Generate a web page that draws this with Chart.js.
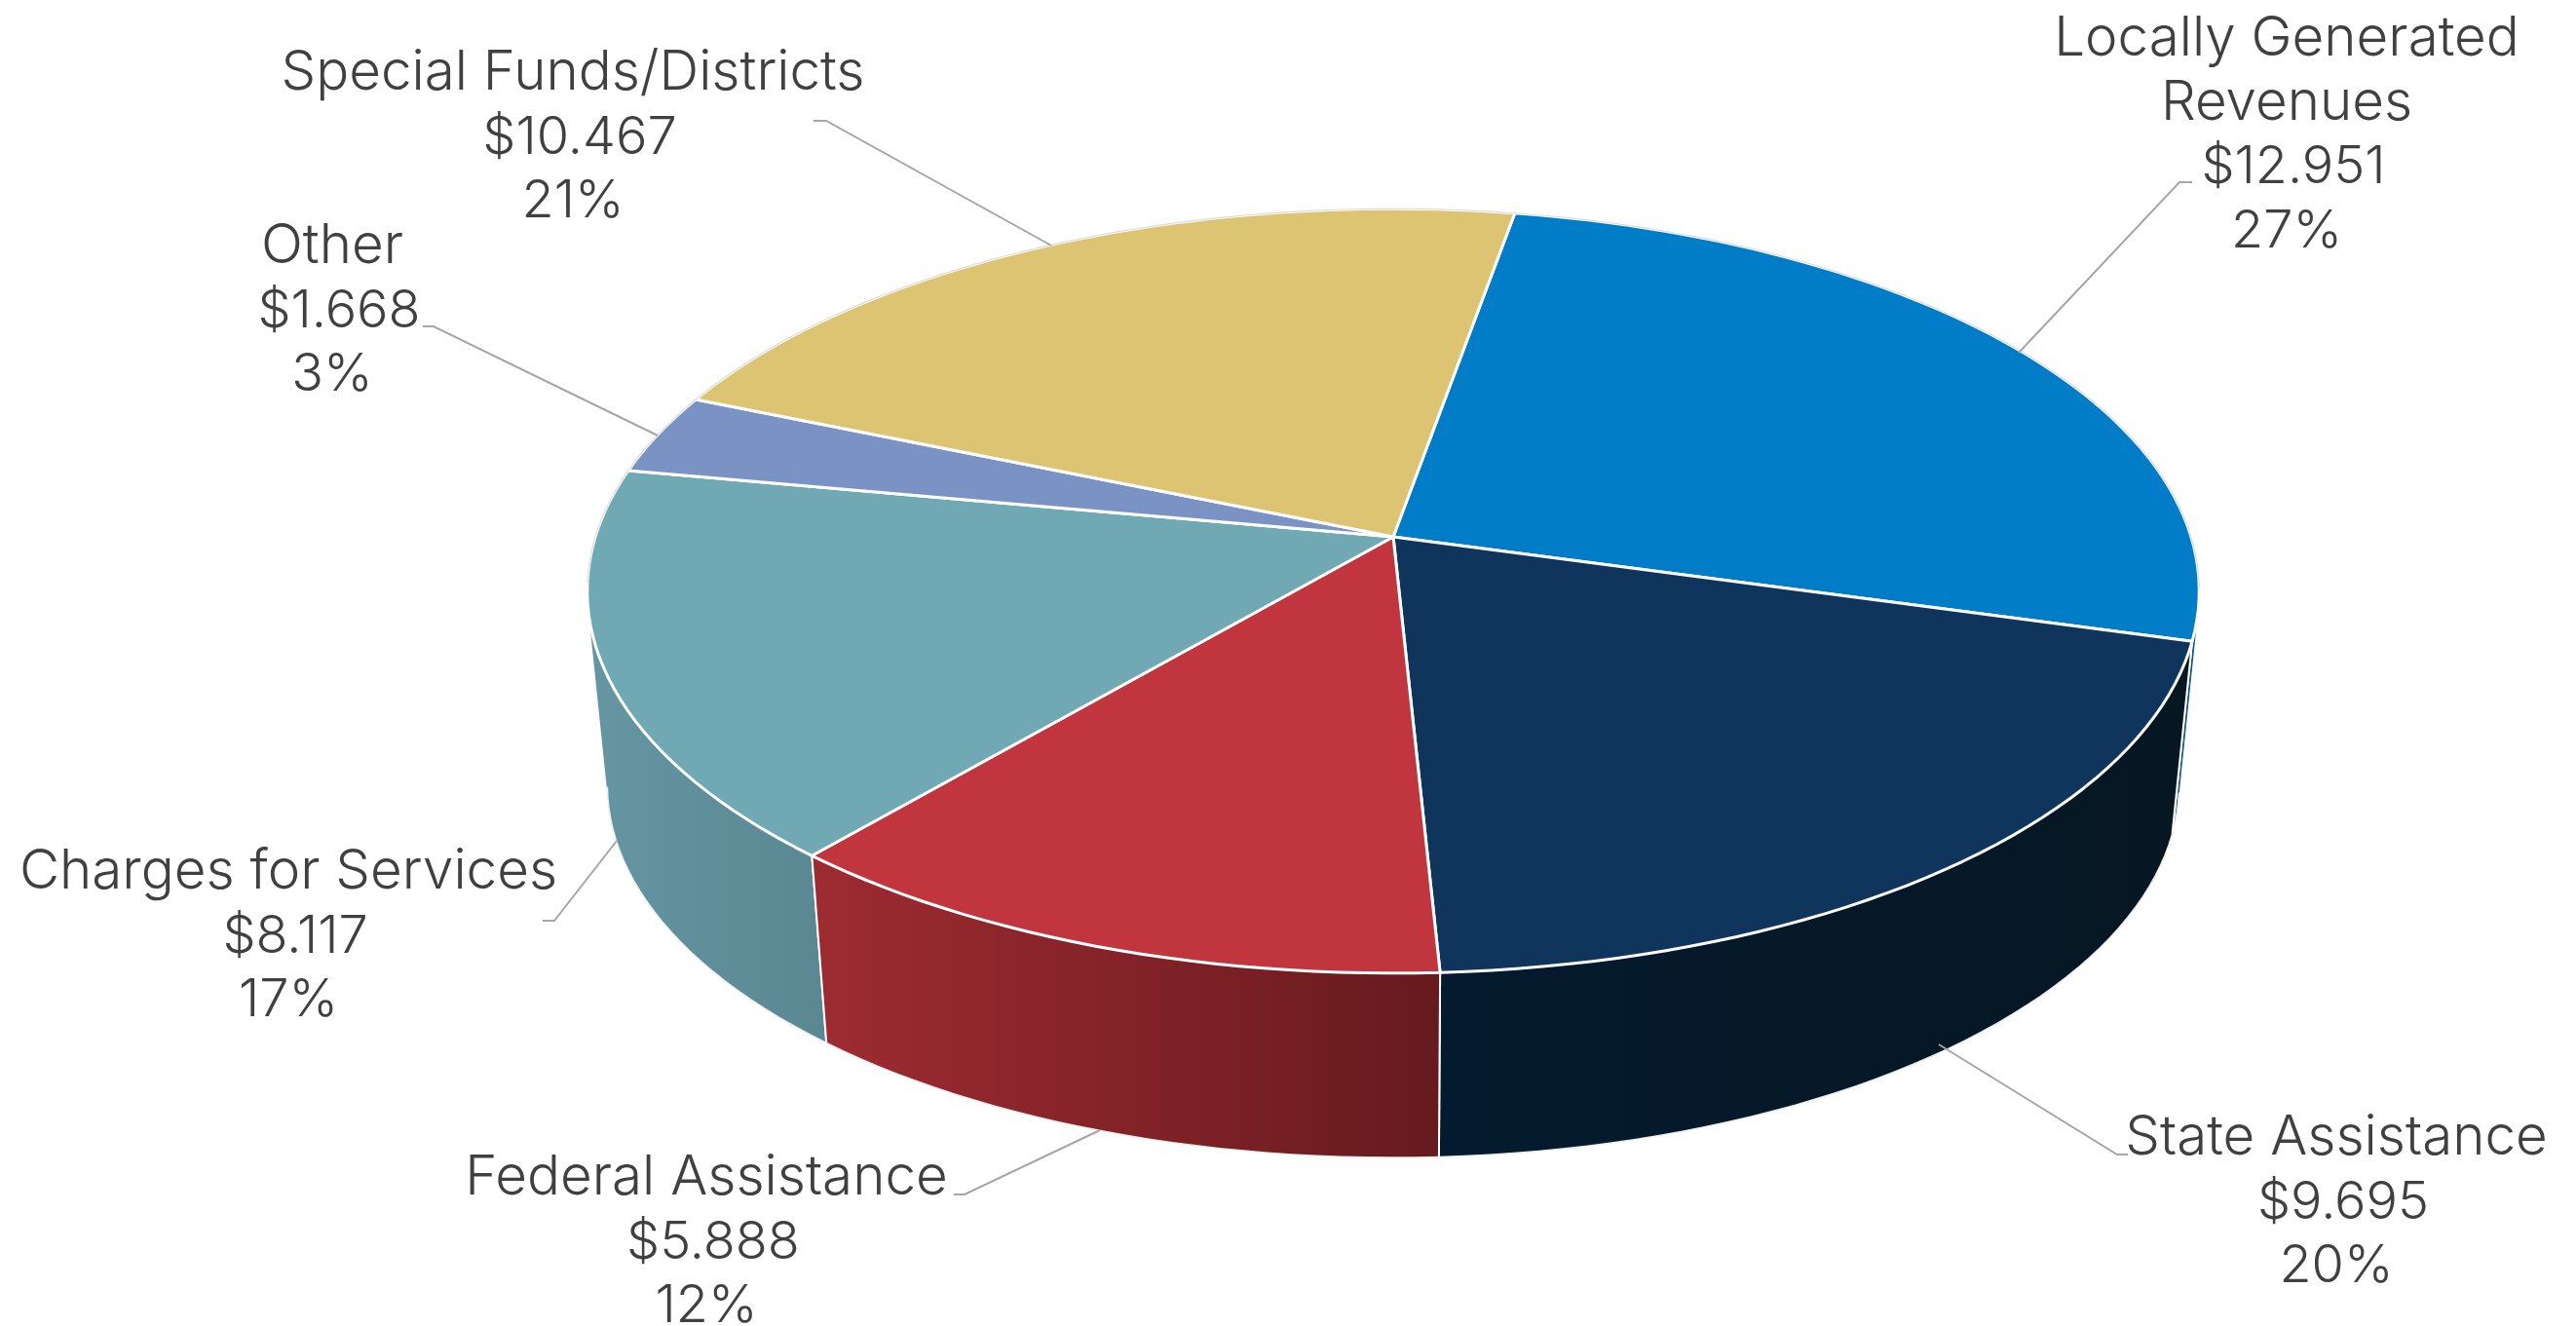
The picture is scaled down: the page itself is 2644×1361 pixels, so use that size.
<!DOCTYPE html>
<html>
<head>
<meta charset="utf-8">
<title>Revenue sources</title>
<script src="https://cdn.jsdelivr.net/npm/chart.js@4"></script>
<style>
  html, body { margin: 0; padding: 0; background: #fff; }
  canvas { display: block; }
</style>
</head>
<body>
<canvas id="myChart" width="2644" height="1361"></canvas>
<script>
// Data
const categories = [["Locally Generated", "Revenues"], ["State Assistance"], ["Federal Assistance"], ["Charges for Services"], ["Other"], ["Special Funds/Districts"]];
const amounts = [12.951, 9.695, 5.888, 8.117, 1.668, 10.467];
const percents = [27, 20, 12, 17, 3, 21];

// Styles
const topColors = ['#007dc6', '#0f355d', '#c1363e', '#70a8b4', '#7b93c4', '#dcc472'];
const wallColors = [['#0f6296', '#0d5580'], ['#041a2e', '#061722'], ['#9e2b32', '#661a1e'], ['#6596a2', '#5a8792'], ['#5c7096', '#5c7096'], ['#a8955a', '#a8955a']];

// Label placement: centre x, first baseline, leader line points
const labelPlaces = [
    { x: 2347, y: 57, leader: [[2250, 187], [2237, 187], [2072, 362]] },
    { x: 2398, y: 1185, leader: [[2184, 1185], [2173, 1185], [1990, 1072]] },
    { x: 725, y: 1226, leader: [[979, 1226], [990, 1226], [1129, 1160]] },
    { x: 296, y: 912, leader: [[557, 945], [569, 945], [633, 863]] },
    { x: 341, y: 270, leader: [[434, 335], [445, 335], [675, 447]] },
    { x: 588, y: 92, leader: [[835, 124], [848, 124], [1079, 252]] }
];
const lineHeight = 65.6;
const nameFont = '300 56.5px Inter';
const numberFont = '300 54px Inter';
const amountNudge = 7;

// Perspective of the disc, relative to the arc radius
const view = { kx: 1.489, ky: 0.699, p: 0.1416, wallScale: 0.975, wallShift: 199, ellipseY: 56 };

function project(el, angle) {
    const u = Math.cos(angle), v = Math.sin(angle);
    const w = 1 - view.p * v;
    return [el.x + el.outerRadius * view.kx * u / w, el.y + el.outerRadius * view.ky * v / w];
}

function lower(el, pt) {
    const yc = el.y + view.ellipseY;
    return [el.x + view.wallScale * (pt[0] - el.x), yc + view.wallShift + view.wallScale * (pt[1] - yc)];
}

function stepCount(el) {
    return Math.max(4, Math.ceil((el.endAngle - el.startAngle) * 36));
}

function stepAngle(el, i) {
    return el.startAngle + (el.endAngle - el.startAngle) * i / stepCount(el);
}

function rimPoints(el) {
    const pts = [];
    for (let i = 0; i <= stepCount(el); i++) {
        pts.push(project(el, stepAngle(el, i)));
    }
    return pts;
}

function tracePoly(ctx, pts) {
    ctx.beginPath();
    pts.forEach((p, i) => i ? ctx.lineTo(p[0], p[1]) : ctx.moveTo(p[0], p[1]));
    ctx.closePath();
}

// stroke only the stretch of an arc that passes the test
function strokeWhere(ctx, el, pts, test) {
    ctx.beginPath();
    let pen = false;
    pts.forEach((p, k) => {
        if (!test(Math.sin(stepAngle(el, k)))) { pen = false; return; }
        if (pen) ctx.lineTo(p[0], p[1]); else ctx.moveTo(p[0], p[1]);
        pen = true;
    });
    ctx.stroke();
}

// one path of same-way-round quads, so the fold at the disc's sides leaves no hole
function addWallQuads(ctx, rim, low) {
    ctx.beginPath();
    for (let k = 0; k < rim.length - 1; k++) {
        let quad = [rim[k], rim[k + 1], low[k + 1], low[k]];
        let area = 0;
        quad.forEach((p, n) => {
            const q = quad[(n + 1) % 4];
            area += p[0] * q[1] - q[0] * p[1];
        });
        if (area < 0) quad = quad.reverse();
        quad.forEach((p, n) => n ? ctx.lineTo(p[0], p[1]) : ctx.moveTo(p[0], p[1]));
        ctx.closePath();
    }
}

const pie3d = {
    id: 'pie3d',
    beforeDatasetsDraw(chart) {
        const ctx = chart.ctx;
        const arcs = chart.getDatasetMeta(0).data;
        ctx.save();
        ctx.lineJoin = 'round';

        // walls, back to front
        const order = arcs.map((el, i) => i).sort((a, b) =>
            Math.sin((arcs[a].startAngle + arcs[a].endAngle) / 2) - Math.sin((arcs[b].startAngle + arcs[b].endAngle) / 2));
        order.forEach(i => {
            const el = arcs[i];
            const rim = rimPoints(el);
            const low = rim.map(p => lower(el, p));
            const xs = rim.concat(low).map(p => p[0]);
            const grad = ctx.createLinearGradient(Math.min(...xs), 0, Math.max(...xs), 0);
            grad.addColorStop(0, wallColors[i][0]);
            grad.addColorStop(1, wallColors[i][1]);
            addWallQuads(ctx, rim, low);
            ctx.fillStyle = grad;
            ctx.fill();

            // bottom edge, only the part that faces the viewer
            ctx.strokeStyle = '#eeeeee';
            ctx.lineWidth = 1.5;
            strokeWhere(ctx, el, low, s => s >= view.p);

            // upright edges
            [0, rim.length - 1].forEach(k => {
                ctx.beginPath();
                ctx.moveTo(rim[k][0], rim[k][1]);
                ctx.lineTo(low[k][0], low[k][1]);
                ctx.strokeStyle = '#ffffff';
                ctx.lineWidth = 2;
                ctx.stroke();
            });
        });

        // top faces
        arcs.forEach((el, i) => {
            tracePoly(ctx, [[el.x, el.y]].concat(rimPoints(el)));
            ctx.fillStyle = topColors[i];
            ctx.fill();
            ctx.strokeStyle = '#ffffff';
            ctx.lineWidth = 3;
            ctx.stroke();
        });

        // faint rim round the back of the disc
        ctx.strokeStyle = 'rgba(190,190,190,0.55)';
        ctx.lineWidth = 1.2;
        arcs.forEach(el => strokeWhere(ctx, el, rimPoints(el), s => s < view.p));
        ctx.restore();
        return false;
    },
    afterDraw(chart) {
        const ctx = chart.ctx;
        ctx.save();
        // leader lines
        ctx.strokeStyle = '#a6a6a6';
        ctx.lineWidth = 2;
        labelPlaces.forEach(place => {
            ctx.beginPath();
            place.leader.forEach((p, i) => i ? ctx.lineTo(p[0], p[1]) : ctx.moveTo(p[0], p[1]));
            ctx.stroke();
        });
        // labels
        ctx.fillStyle = '#404040';
        ctx.textAlign = 'center';
        ctx.textBaseline = 'alphabetic';
        categories.forEach((name, i) => {
            const place = labelPlaces[i];
            ctx.font = nameFont;
            name.forEach((line, k) => ctx.fillText(line, place.x, place.y + k * lineHeight));
            ctx.font = numberFont;
            ctx.fillText('$' + amounts[i].toFixed(3), place.x + amountNudge, place.y + name.length * lineHeight);
            ctx.fillText(percents[i] + '%', place.x, place.y + (name.length + 1) * lineHeight);
        });
        ctx.restore();
    }
};

const ctx = document.getElementById('myChart').getContext('2d');
const myChart = new Chart(ctx, {
    type: 'pie',
    data: {
        labels: categories.map(c => c.join(' ')),
        datasets: [{
            data: amounts,
            backgroundColor: topColors,
            borderColor: '#ffffff'
        }]
    },
    options: {
        responsive: false,
        animation: false,
        devicePixelRatio: 1,
        rotation: 10,
        layout: { padding: { left: 216, right: 0, top: 0, bottom: 259 } },
        plugins: {
            legend: { display: false },
            tooltip: { enabled: false }
        }
    },
    plugins: [pie3d]
});
</script>
</body>
</html>
